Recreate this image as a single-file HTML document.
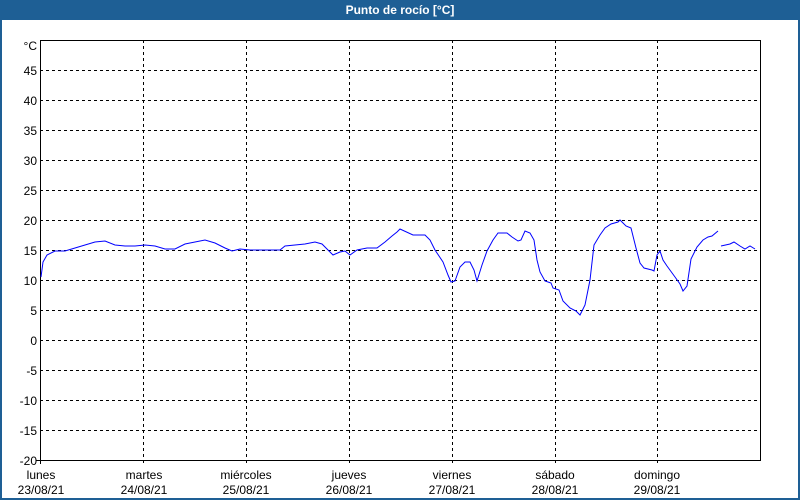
<!DOCTYPE html>
<html><head><meta charset="utf-8"><style>
body{margin:0;width:800px;height:500px;background:#fff;overflow:hidden;font-family:"Liberation Sans","DejaVu Sans",sans-serif;}
</style></head><body>
<svg width="800" height="500" xmlns="http://www.w3.org/2000/svg" style="display:block">
<rect x="0" y="0" width="800" height="500" fill="#1e5f95"/>
<rect x="2" y="20" width="796" height="478" fill="#fff"/>
<text x="400" y="14" fill="#fff" font-size="12" font-weight="bold" text-anchor="middle" font-family="Liberation Sans, sans-serif">Punto de rocío [°C]</text>
<g stroke="#000" stroke-width="1" stroke-dasharray="3,3" shape-rendering="crispEdges">
<line x1="40" y1="70.5" x2="760" y2="70.5"/><line x1="40" y1="100.5" x2="760" y2="100.5"/><line x1="40" y1="130.5" x2="760" y2="130.5"/><line x1="40" y1="160.5" x2="760" y2="160.5"/><line x1="40" y1="190.5" x2="760" y2="190.5"/><line x1="40" y1="220.5" x2="760" y2="220.5"/><line x1="40" y1="250.5" x2="760" y2="250.5"/><line x1="40" y1="280.5" x2="760" y2="280.5"/><line x1="40" y1="310.5" x2="760" y2="310.5"/><line x1="40" y1="340.5" x2="760" y2="340.5"/><line x1="40" y1="370.5" x2="760" y2="370.5"/><line x1="40" y1="400.5" x2="760" y2="400.5"/><line x1="40" y1="430.5" x2="760" y2="430.5"/>
<line x1="143.5" y1="40" x2="143.5" y2="464"/><line x1="246.5" y1="40" x2="246.5" y2="464"/><line x1="349.5" y1="40" x2="349.5" y2="464"/><line x1="452.5" y1="40" x2="452.5" y2="464"/><line x1="555.5" y1="40" x2="555.5" y2="464"/><line x1="657.5" y1="40" x2="657.5" y2="464"/>
</g>
<rect x="40.5" y="40.5" width="720" height="420" fill="none" stroke="#000" stroke-width="1" shape-rendering="crispEdges"/>
<g stroke="#000" shape-rendering="crispEdges"><line x1="36" y1="460.5" x2="40" y2="460.5"/><line x1="40.5" y1="460" x2="40.5" y2="464"/></g>
<g font-size="12" fill="#000" text-anchor="end" font-family="Liberation Sans, sans-serif">
<text x="37" y="50">°C</text><text x="37" y="75">45</text><text x="37" y="105">40</text><text x="37" y="135">35</text><text x="37" y="165">30</text><text x="37" y="195">25</text><text x="37" y="225">20</text><text x="37" y="255">15</text><text x="37" y="285">10</text><text x="37" y="315">5</text><text x="37" y="345">0</text><text x="37" y="375">-5</text><text x="37" y="405">-10</text><text x="37" y="435">-15</text><text x="37" y="465">-20</text>
</g>
<g font-size="12" fill="#000" text-anchor="middle" font-family="Liberation Sans, sans-serif">
<text x="41" y="479">lunes</text><text x="41" y="494">23/08/21</text>
<text x="144" y="479">martes</text><text x="144" y="494">24/08/21</text>
<text x="246" y="479">miércoles</text><text x="246" y="494">25/08/21</text>
<text x="349" y="479">jueves</text><text x="349" y="494">26/08/21</text>
<text x="452" y="479">viernes</text><text x="452" y="494">27/08/21</text>
<text x="555" y="479">sábado</text><text x="555" y="494">28/08/21</text>
<text x="657" y="479">domingo</text><text x="657" y="494">29/08/21</text>
</g>
<g fill="none" stroke="#0000ff" stroke-width="1">
<polyline points="41,277 43,262 47,255 55,251 65,251 75,248 85,245 95,242 105,241 115,245 125,246 135,246 145,245 155,246 165,249 175,249 185,244 195,242 205,240 215,243 225,248 232,251 240,249 250,250 260,250 270,250 280,250 285,246 295,245 305,244 315,242 322,244 327,249 333,255 340,252 345,251 350,255 357,250 367,248 377,248 385,242 392,236 397,232 400,229 413,235 425,235 430,240 435,250 443,262 448,275 451,282 455,281 460,267 465,262 470,262 474,270 477,281 482,265 487,251 493,240 498,233 507,233 512,237 518,241 521,240 525,231 530,233 534,240 537,260 540,272 545,281 551,283 553,288 559,290 563,301 570,308 576,311 580,315 585,305 590,280 594,245 600,235 605,228 611,224 618,222 620,220 626,226 631,228 636,248 640,263 644,268 652,270 654,271 657,255 660,251 663,260 667,266 675,277 680,284 683,291 687,286 691,259 697,247 703,240 708,237 712,236 718,231"/>
<polyline points="721,246 730,244 734,242 740,246 745,249 750,246 755,249"/>
</g>
</svg>
</body></html>
